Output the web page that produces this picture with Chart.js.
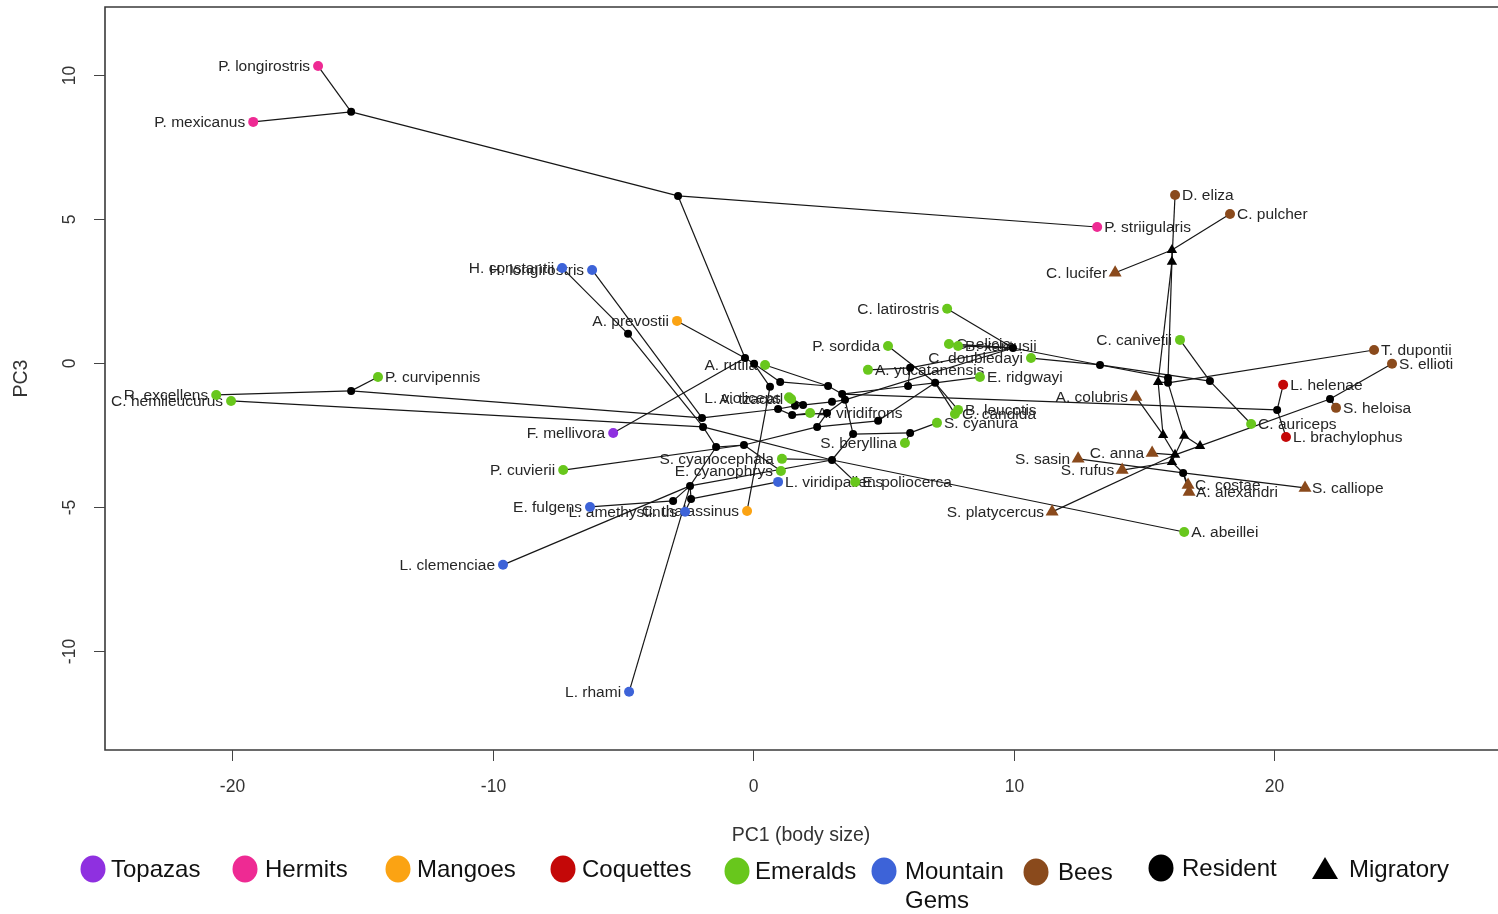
<!DOCTYPE html>
<html>
<head>
<meta charset="utf-8">
<script src="https://cdn.jsdelivr.net/npm/chart.js@4.4.1/dist/chart.umd.min.js"></script>
<style>
  html, body { margin: 0; padding: 0; background: #fff; }
  #wrap { width: 1498px; height: 914px; }
</style>
</head>
<body>
<div id="wrap"><canvas id="c" width="1498" height="914"></canvas></div>
<script>
// Clade names and their colours
const groups = ['Topazas', 'Hermits', 'Mangoes', 'Coquettes', 'Emeralds', 'Mountain Gems', 'Bees'];
const groupColors = ['#8f30e0', '#ee2a93', '#fba313', '#c40808', '#68c71c', '#3d63d8', '#8a4a1c'];

// Species (tips): PC1 (body size) and PC3 scores
const tipNames = [
  'P. longirostris', 'P. mexicanus', 'P. striigularis',
  'F. mellivora',
  'A. prevostii', 'C. thalassinus',
  'L. helenae', 'L. brachylophus',
  'P. curvipennis', 'R. excellens', 'C. hemileucurus', 'P. cuvierii', 'A. rutila',
  'L. violiceps', 'A. tzacatl', 'A. viridifrons', 'S. beryllina', 'S. cyanocephala',
  'E. cyanophrys', 'E. poliocerca', 'P. sordida', 'A. yucatanensis', 'C. latirostris',
  'C. elicia', 'B. xantusii', 'C. doubledayi', 'E. ridgwayi', 'B. leucotis', 'C. candida',
  'S. cyanura', 'C. canivetii', 'C. auriceps', 'A. abeillei',
  'H. constantii', 'H. longirostris', 'E. fulgens', 'L. amethystinus', 'L. clemenciae',
  'L. rhami', 'L. viridipallens',
  'D. eliza', 'C. pulcher', 'T. dupontii', 'S. ellioti', 'S. heloisa', 'C. lucifer',
  'A. colubris', 'S. sasin', 'C. anna', 'S. rufus', 'C. costae', 'A. alexandri',
  'S. calliope', 'S. platycercus'
];
const tipPC1 = [
  -16.70, -19.19, 13.21,
  -5.37,
  -2.92, -0.23,
  20.35, 20.46,
  -14.40, -20.61, -20.04, -7.29, 0.46,
  1.38, 1.46, 2.19, 5.83, 1.11,
  1.07, 3.92, 5.18, 4.41, 7.45,
  7.52, 7.87, 10.67, 8.71, 7.87, 7.75,
  7.06, 16.39, 19.12, 16.55,
  -7.33, -6.18, -6.26, -2.61, -9.60,
  -4.76, 0.96,
  16.20, 18.31, 23.84, 24.53, 22.38, 13.90,
  14.70, 12.48, 15.32, 14.17, 16.70, 16.74,
  21.19, 11.48
];
const tipPC3 = [
  10.31, 8.37, 4.72,
  -2.43,
  1.46, -5.14,
  -0.76, -2.57,
  -0.49, -1.11, -1.32, -3.72, -0.07,
  -1.19, -1.25, -1.74, -2.78, -3.33,
  -3.75, -4.13, 0.59, -0.24, 1.88,
  0.66, 0.59, 0.17, -0.49, -1.63, -1.77,
  -2.08, 0.80, -2.12, -5.87,
  3.30, 3.23, -5.00, -5.17, -7.01,
  -11.42, -4.13,
  5.83, 5.17, 0.45, -0.03, -1.56, 3.13,
  -1.18, -3.33, -3.13, -3.72, -4.24, -4.48,
  -4.34, -5.17
];
// index into groups
const tipGroup = [
  1, 1, 1,
  0,
  2, 2,
  3, 3,
  4, 4, 4, 4, 4,
  4, 4, 4, 4, 4,
  4, 4, 4, 4, 4,
  4, 4, 4, 4, 4, 4,
  4, 4, 4, 4,
  5, 5, 5, 5, 5,
  5, 5,
  6, 6, 6, 6, 6, 6,
  6, 6, 6, 6, 6, 6,
  6, 6
];
const migratoryTips = ['C. lucifer', 'A. colubris', 'S. sasin', 'C. anna', 'S. rufus',
  'C. costae', 'A. alexandri', 'S. calliope', 'S. platycercus'];
const labelsRight = ['P. striigularis', 'D. eliza', 'C. pulcher', 'T. dupontii', 'S. ellioti',
  'L. helenae', 'S. heloisa', 'C. auriceps', 'L. brachylophus', 'C. costae', 'A. alexandri',
  'S. calliope', 'A. abeillei', 'P. curvipennis', 'A. yucatanensis', 'E. ridgwayi', 'C. elicia',
  'B. xantusii', 'B. leucotis', 'C. candida', 'S. cyanura', 'A. viridifrons',
  'L. viridipallens', 'E. poliocerca'];

// Reconstructed ancestral nodes
const nodeIds = ['n1','n2','n3','n4','n5','n6','n7','n8','n9','n10','n11','n12','n13','n14',
  'n15','n16','n17','n18','n19','n20','n21','n22','n23','n24','n25','n26','n27','n28','n29',
  'n30','n31','n32','n33','n34','n35','n36','n37','n38','n39','n40',
  't1','t2','t3','t4','t5','t6','t7','t8'];
const nodePC1 = [-15.43, -2.88, -0.31, 0.04, 1.04, 0.65, -4.80, -1.42, -2.42, -2.38, -3.07,
  -0.35, 2.88, 3.42, 3.53, 3.03, 1.61, 1.92, 0.96, 1.50, 2.84, 2.46, 4.80, 5.95, 6.03, 3.84,
  6.03, -1.96, -1.92, 3.03, -15.43, 6.99, 9.98, 13.32, 17.54, 15.93, 15.93, 20.12, 22.15, 16.51,
  16.08, 16.08, 15.55, 15.74, 16.55, 17.16, 16.20, 16.08];
const nodePC3 = [8.72, 5.80, 0.17, -0.03, -0.66, -0.83, 1.01, -2.92, -4.27, -4.72, -4.79,
  -2.85, -0.80, -1.08, -1.28, -1.35, -1.49, -1.46, -1.60, -1.81, -1.74, -2.22, -2.01, -0.80,
  -0.17, -2.47, -2.43, -1.91, -2.22, -3.37, -0.97, -0.69, 0.52, -0.07, -0.63, -0.52, -0.69,
  -1.63, -1.25, -3.82,
  3.92, 3.51, -0.66, -2.50, -2.53, -2.88, -3.19, -3.44];
const migratoryNodes = ['t1','t2','t3','t4','t5','t6','t7','t8'];

// Tree branches (parent, child)
const edgeFrom = [
  'n1','n1','n1','n2','n2',
  'n3','n3','n3','n4','n4','n6',
  'n5','n13','n13','n14','n38','n38',
  'n14','n14','n15','n15','n16','n17','n18','n18','n17','n19','n28','n28','n31','n31',
  'n19','n20','n20','n21','n21','n22','n12','n12','n12',
  'n22','n23','n32','n32','n32','n32','n24','n24','n25','n25',
  'n15','n26','n27','n27','n26','n30','n30','n30','n30','n29','n29','n29','n7','n29','n8',
  'n9','n9','n11','n9','n10','n9','n10',
  'n33','n33','n33','n33','n34','n34','n35','n35','n34',
  'n36','t2','t2','t1','t1','t2','n36','n37','n37','n37','t3','t4','t4','t5','t5','t6',
  'n39','n39','t6','t7','t7','t7','t8','t8','n40','n40','n40','n40'
];
const edgeTo = [
  'P. longirostris','P. mexicanus','n2','P. striigularis','n3',
  'F. mellivora','A. prevostii','n4','n5','n6','C. thalassinus',
  'n13','A. rutila','n14','n38','L. helenae','L. brachylophus',
  'n24','n15','n33','n16','n17','n18','L. violiceps','A. tzacatl','n19','n28','H. longirostris','n31','P. curvipennis','R. excellens',
  'n20','A. viridifrons','n21','n15','n22','n12','P. cuvierii','n8','E. cyanophrys',
  'n23','n32','E. ridgwayi','P. sordida','C. candida','B. leucotis','n32','n25','A. yucatanensis','n33',
  'n26','n27','S. cyanura','S. beryllina','n30','E. poliocerca','A. abeillei','S. cyanocephala','n9','n30','C. hemileucurus','n7','H. constantii','n8','n9',
  'L. clemenciae','n11','E. fulgens','n10','L. amethystinus','L. rhami','L. viridipallens',
  'C. latirostris','C. elicia','B. xantusii','n34','C. doubledayi','n35','C. canivetii','C. auriceps','n36',
  't2','D. eliza','t1','C. lucifer','C. pulcher','t3','n37','T. dupontii','t3','t5','t4','A. colubris','t7','t6','t7','n39',
  'S. ellioti','S. heloisa','t7','C. anna','S. platycercus','t8','S. rufus','n40','S. sasin','S. calliope','C. costae','A. alexandri'
];

const xTicks = [-20, -10, 0, 10, 20];
const yTicks = [-10, -5, 0, 5, 10];

// ---- build datasets ----
const pos = {};
tipNames.forEach((n, i) => { pos[n] = { x: tipPC1[i], y: tipPC3[i] }; });
nodeIds.forEach((n, i) => { pos[n] = { x: nodePC1[i], y: nodePC3[i] }; });

const datasets = [];
edgeFrom.forEach((a, i) => {
  datasets.push({
    type: 'line',
    data: [pos[a], pos[edgeTo[i]]],
    borderColor: '#161616',
    borderWidth: 1.2,
    pointRadius: 0,
    fill: false,
    order: 5
  });
});

datasets.push({
  type: 'scatter',
  data: nodeIds.filter(n => !migratoryNodes.includes(n)).map(n => pos[n]),
  backgroundColor: '#000', borderColor: '#000', borderWidth: 0,
  pointRadius: 4, pointStyle: 'circle', order: 2
});
datasets.push({
  type: 'scatter',
  data: nodeIds.filter(n => migratoryNodes.includes(n)).map(n => pos[n]),
  backgroundColor: '#000', borderColor: '#000', borderWidth: 0,
  pointRadius: 6, pointStyle: 'triangle', order: 2
});

groups.forEach((g, gi) => {
  const res = [], mig = [];
  tipNames.forEach((n, i) => {
    if (tipGroup[i] !== gi) return;
    (migratoryTips.includes(n) ? mig : res).push(pos[n]);
  });
  if (res.length) datasets.push({
    type: 'scatter', label: g, data: res,
    backgroundColor: groupColors[gi], borderColor: groupColors[gi], borderWidth: 0,
    pointRadius: 5, pointStyle: 'circle', order: 1
  });
  if (mig.length) datasets.push({
    type: 'scatter', label: g, data: mig,
    backgroundColor: groupColors[gi], borderColor: groupColors[gi], borderWidth: 0,
    pointRadius: 7.5, pointStyle: 'triangle', order: 1
  });
});

const FONT = '"Liberation Sans", Arial, Helvetica, sans-serif';

// species labels under the marks, then the frame, axes and legend
const decorations = {
  id: 'decorations',
  beforeDatasetsDraw(chart) {
    const { ctx, scales: { x, y } } = chart;
    ctx.save();
    ctx.font = '15.5px ' + FONT;
    ctx.fillStyle = '#262626';
    ctx.textBaseline = 'middle';
    tipNames.forEach((n, i) => {
      const px = x.getPixelForValue(tipPC1[i]);
      const py = y.getPixelForValue(tipPC3[i]) + 1;
      if (labelsRight.includes(n)) { ctx.textAlign = 'left'; ctx.fillText(n, px + 7, py); }
      else { ctx.textAlign = 'right'; ctx.fillText(n, px - 8, py); }
    });
    ctx.restore();
  },
  afterDraw(chart) {
    const { ctx, chartArea: a, scales: { x, y } } = chart;
    ctx.save();
    // frame
    ctx.strokeStyle = '#3a3a3a';
    ctx.lineWidth = 1.6;
    ctx.beginPath();
    ctx.moveTo(a.right + 2, a.top); ctx.lineTo(a.left, a.top);
    ctx.lineTo(a.left, a.bottom); ctx.lineTo(a.right + 2, a.bottom);
    ctx.stroke();

    // ticks
    ctx.lineWidth = 1;
    ctx.strokeStyle = '#444';
    ctx.fillStyle = '#333';
    ctx.font = '17.5px ' + FONT;
    ctx.textAlign = 'center';
    ctx.textBaseline = 'middle';
    xTicks.forEach(v => {
      const px = Math.round(x.getPixelForValue(v)) + 0.5;
      ctx.beginPath(); ctx.moveTo(px, a.bottom); ctx.lineTo(px, a.bottom + 11); ctx.stroke();
      ctx.fillText(String(v), px, a.bottom + 37);
    });
    yTicks.forEach(v => {
      const py = Math.round(y.getPixelForValue(v)) + 0.5;
      ctx.beginPath(); ctx.moveTo(a.left - 11, py); ctx.lineTo(a.left, py); ctx.stroke();
      ctx.save();
      ctx.translate(a.left - 35, py);
      ctx.rotate(-Math.PI / 2);
      ctx.fillText(String(v), 0, 0);
      ctx.restore();
    });

    // axis titles
    ctx.font = '19.5px ' + FONT;
    ctx.fillText('PC1 (body size)', (a.left + a.right) / 2, 836);
    ctx.save();
    ctx.translate(22, (a.top + a.bottom) / 2);
    ctx.rotate(-Math.PI / 2);
    ctx.fillText('PC3', 0, 0);
    ctx.restore();

    // legend
    const items = [
      { label: groups[0], color: groupColors[0], cx: 93, cy: 869, tx: 111 },
      { label: groups[1], color: groupColors[1], cx: 245, cy: 869, tx: 265 },
      { label: groups[2], color: groupColors[2], cx: 398, cy: 869, tx: 417 },
      { label: groups[3], color: groupColors[3], cx: 563, cy: 869, tx: 582 },
      { label: groups[4], color: groupColors[4], cx: 737, cy: 871, tx: 755 },
      { label: groups[5], color: groupColors[5], cx: 884, cy: 871, tx: 905 },
      { label: groups[6], color: groupColors[6], cx: 1036, cy: 872, tx: 1058 },
      { label: 'Resident', color: '#000', cx: 1161, cy: 868, tx: 1182 },
      { label: 'Migratory', color: '#000', cx: 1325, cy: 869, tx: 1349, tri: true }
    ];
    ctx.font = '24px ' + FONT;
    ctx.textAlign = 'left';
    items.forEach(it => {
      ctx.fillStyle = it.color;
      ctx.beginPath();
      if (it.tri) {
        ctx.moveTo(it.cx, it.cy - 12);
        ctx.lineTo(it.cx + 13, it.cy + 10);
        ctx.lineTo(it.cx - 13, it.cy + 10);
        ctx.closePath();
      } else {
        ctx.ellipse(it.cx, it.cy, 12.5, 13.5, 0, 0, Math.PI * 2);
      }
      ctx.fill();
      ctx.fillStyle = '#111';
      const words = it.label === 'Mountain Gems' ? ['Mountain', 'Gems'] : [it.label];
      words.forEach((w, k) => ctx.fillText(w, it.tx, it.cy + 1 + k * 29));
    });
    ctx.restore();
  }
};

new Chart(document.getElementById('c'), {
  type: 'scatter',
  data: { datasets },
  options: {
    responsive: false,
    animation: false,
    events: [],
    layout: { autoPadding: false, padding: { left: 105, top: 7, right: 1, bottom: 164 } },
    plugins: { legend: { display: false }, tooltip: { enabled: false } },
    scales: {
      x: { type: 'linear', min: -24.88, max: 28.56, display: false },
      y: { type: 'linear', min: -13.44, max: 12.36, display: false }
    }
  },
  plugins: [decorations]
});
</script>
</body>
</html>
